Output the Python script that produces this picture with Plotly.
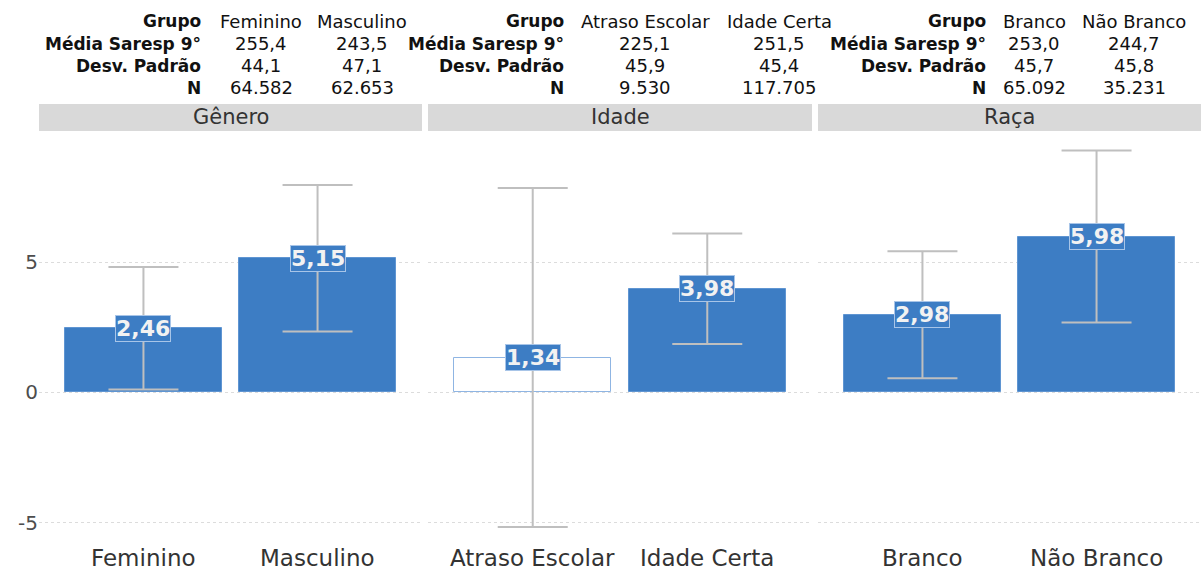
import plotly.graph_objects as go

# Painéis e grupos
paineis = ["Gênero", "Idade", "Raça"]
grupos = [["Feminino", "Masculino"], ["Atraso Escolar", "Idade Certa"], ["Branco", "Não Branco"]]

# Efeito estimado e erro (intervalo) por grupo
efeito = [[2.46, 5.15], [1.34, 3.98], [2.98, 5.98]]
erro = [[2.35, 2.81], [6.50, 2.12], [2.44, 3.30]]
significativo = [[True, True], [False, True], [True, True]]

# Tabelas descritivas acima de cada painel
media_saresp = [["255,4", "243,5"], ["225,1", "251,5"], ["253,0", "244,7"]]
desv_padrao = [["44,1", "47,1"], ["45,9", "45,4"], ["45,7", "45,8"]]
n_alunos = [["64.582", "62.653"], ["9.530", "117.705"], ["65.092", "35.231"]]
rotulos_tabela = ["Grupo", "Média Saresp 9°", "Desv. Padrão", "N"]

W, H = 1201, 571
FONT = "DejaVu Sans"
AZUL = "#3d7dc4"
CINZA_ERRO = "#bfbfbf"

# geometria dos painéis (px)
painel_x = [(39, 422), (428, 812), (818, 1201)]
plot_top, plot_bot = 131, 547
strip_top, strip_bot = 104, 131
linhas_y = [21, 44, 66, 88]
label_right = [203, 566, 988]
col_centros = [(261, 362), (645, 779), (1034, 1134)]
eixo_x_y = 558


def px(x):
    return x / W


def py(y):
    return 1 - y / H


fig = go.Figure()
annotations = []
shapes = []

for i, painel in enumerate(paineis):
    ax = "" if i == 0 else str(i + 1)
    fills = [AZUL if s else "white" for s in significativo[i]]
    lines = ["#5f95d2" if s else "#8fb5e3" for s in significativo[i]]
    fig.add_trace(go.Bar(
        x=grupos[i], y=efeito[i], width=0.9,
        marker=dict(color=fills, line=dict(color=lines, width=1)),
        error_y=dict(type="data", array=erro[i], color=CINZA_ERRO, thickness=2, width=35),
        xaxis="x" + ax, yaxis="y" + ax, showlegend=False, hoverinfo="skip",
    ))
    for g, v in zip(grupos[i], efeito[i]):
        # rótulo de valor sobre a barra
        annotations.append(dict(
            x=g, y=v, xref="x" + ax, yref="y" + ax, text=f"<b>{v:.2f}</b>".replace(".", ","),
            showarrow=False, xanchor="center", yanchor="middle",
            font=dict(family=FONT, size=22, color="#f2f2f2"),
            bgcolor=AZUL, bordercolor="#a8c5e8", borderwidth=1, borderpad=0,
        ))
        # rótulo da categoria no eixo x
        annotations.append(dict(
            x=g, y=py(eixo_x_y), xref="x" + ax, yref="paper", text=g,
            showarrow=False, xanchor="center", yanchor="middle",
            font=dict(family=FONT, size=23, color="#333333"),
        ))
    x0, x1 = painel_x[i]
    fig.update_layout(**{
        "xaxis" + ax: dict(
            domain=[px(x0), px(x1)], range=[-0.6, 1.6], anchor="y" + ax,
            showgrid=False, showline=False, zeroline=False, ticks="", automargin=False,
            showticklabels=False,
        ),
        "yaxis" + ax: dict(
            domain=[py(plot_bot), py(plot_top)], range=[-5.93, 10.03], anchor="x" + ax,
            tickvals=[-5, 0, 5], ticktext=["-5", "0", "5"], showticklabels=(i == 0),
            showgrid=True, gridcolor="#dcdcdc", griddash="dot", gridwidth=1,
            zeroline=False, showline=False, ticks="", automargin=False,
            tickfont=dict(family=FONT, size=20, color="#4d4d4d"),
            **({} if i == 0 else {"matches": "y"}),
        ),
    })
    # faixa do painel
    shapes.append(dict(type="rect", xref="paper", yref="paper",
                       x0=px(x0), x1=px(x1), y0=py(strip_bot), y1=py(strip_top),
                       fillcolor="#d9d9d9", line=dict(width=0), layer="below"))
    annotations.append(dict(x=px((x0 + x1) / 2), y=py((strip_top + strip_bot) / 2),
                            xref="paper", yref="paper", text=painel, showarrow=False,
                            xanchor="center", yanchor="middle",
                            font=dict(family=FONT, size=21, color="#333333")))
    # tabela descritiva
    valores = [grupos[i], media_saresp[i], desv_padrao[i], n_alunos[i]]
    for r, rot in enumerate(rotulos_tabela):
        annotations.append(dict(x=px(label_right[i]), y=py(linhas_y[r]), xref="paper", yref="paper",
                                text=f"<b>{rot}</b>", showarrow=False, xanchor="right", yanchor="middle",
                                font=dict(family=FONT, size=17, color="#111111")))
        for c in range(2):
            annotations.append(dict(x=px(col_centros[i][c]), y=py(linhas_y[r]), xref="paper", yref="paper",
                                    text=valores[r][c], showarrow=False, xanchor="center", yanchor="middle",
                                    font=dict(family=FONT, size=18, color="#111111")))

fig.update_layout(
    width=W, height=H, margin=dict(l=0, r=0, t=0, b=0),
    paper_bgcolor="white", plot_bgcolor="white",
    annotations=annotations, shapes=shapes, bargap=0,
)

fig.write_html("out.html")
